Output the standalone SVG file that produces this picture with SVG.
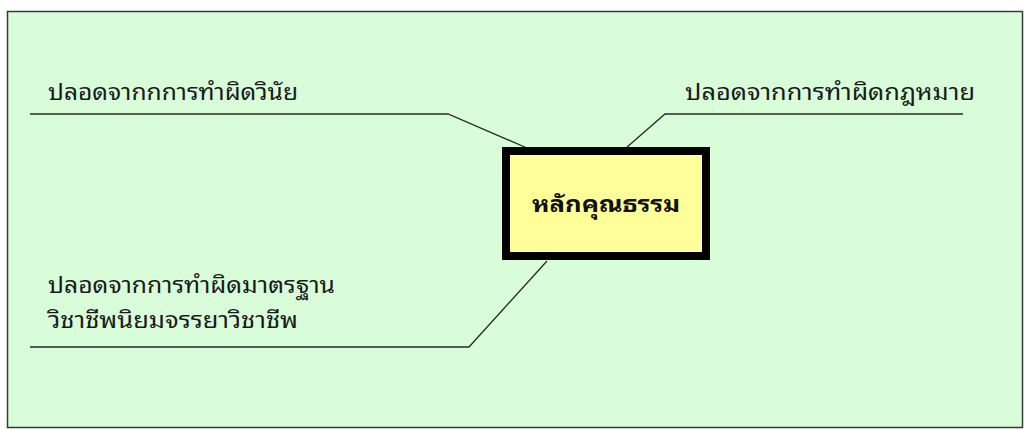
<svg xmlns="http://www.w3.org/2000/svg" width="1025" height="430" viewBox="0 0 1025 430">
<style>
.lbl{font-family:"Noto Sans Thai Looped","Noto Serif Thai","Noto Sans Thai","Noto Sans",sans-serif;font-size:23px;fill:#1a1a1a}
.ttl{font-family:"Noto Sans Thai Looped","Noto Serif Thai","Noto Sans Thai","Noto Sans",sans-serif;font-size:23px;font-weight:bold;fill:#111}
.conn{fill:none;stroke:#2a2a2a;stroke-width:1.3}
</style>
<rect x="0" y="0" width="1025" height="430" fill="#ffffff"/>
<rect id="background" x="7.5" y="11.5" width="1015" height="416" fill="#d9fdd9" stroke="#3a3a3a" stroke-width="1.5"/>
<g id="connectors">
<polyline class="conn" points="30,114 448,114 527,148"/>
<polyline class="conn" points="963,114 665,114 626,148"/>
<polyline class="conn" points="30,347 469,347 547,261"/>
</g>
<g id="center">
<rect x="506" y="151" width="200" height="105" fill="#ffff99" stroke="#000" stroke-width="8"/>
<text class="ttl" x="532" y="212" textLength="148" lengthAdjust="spacingAndGlyphs">หลักคุณธรรม</text>
</g>
<g id="n1"><text class="lbl" x="48" y="100" textLength="250" lengthAdjust="spacingAndGlyphs">ปลอดจากกการทำผิดวินัย</text></g>
<g id="n2"><text class="lbl" x="685" y="100" textLength="290" lengthAdjust="spacingAndGlyphs">ปลอดจากการทำผิดกฎหมาย</text></g>
<g id="n3"><text class="lbl" x="48" y="293" textLength="287" lengthAdjust="spacingAndGlyphs">ปลอดจากการทำผิดมาตรฐาน</text>
<text class="lbl" x="48" y="328" textLength="250" lengthAdjust="spacingAndGlyphs">วิชาชีพนิยมจรรยาวิชาชีพ</text></g>
</svg>
